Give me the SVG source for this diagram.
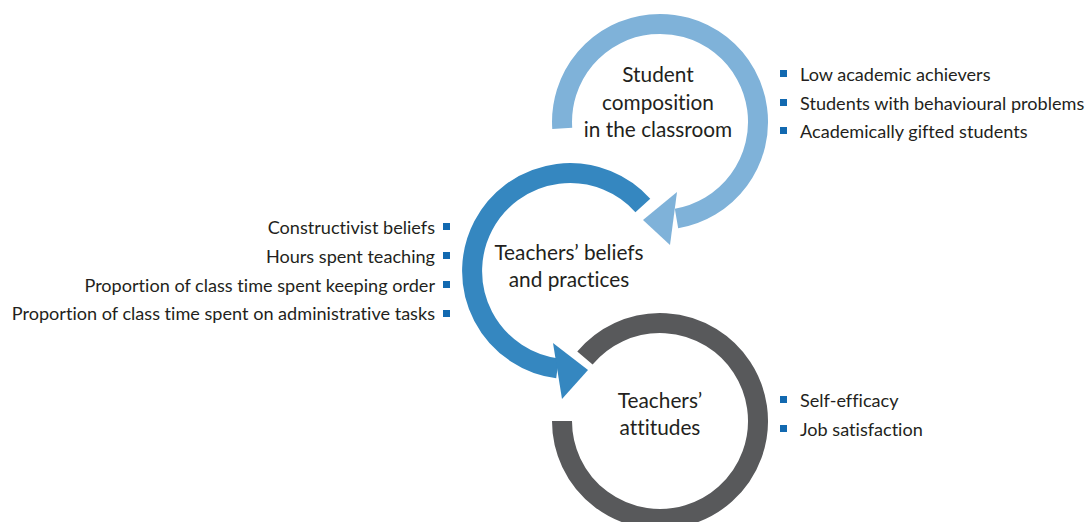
<svg xmlns="http://www.w3.org/2000/svg" width="1090" height="522" viewBox="0 0 1090 522">
<style>
text{font-family:Lato,"Open Sans","Liberation Sans",sans-serif;fill:#231f20;font-variant-ligatures:none;font-feature-settings:"liga" 0,"clig" 0}
.c{font-size:20.8px;text-anchor:middle}
.s{font-size:18.1px}
.r{text-anchor:end}
.b{fill:#1269b0}
.ring{fill:none;stroke-width:20;stroke-linecap:butt}
</style>
<rect width="1090" height="522" fill="#ffffff"/>
<g id="connectors">
<path class="ring" stroke="#7fb2d9" d="M562.24 128.34 A98 98 0 1 1 676.5 218.5"/>
<polygon fill="#7fb2d9" points="677,192 643,220 670,245"/>
<path class="ring" stroke="#3587c0" d="M642.83 205.43 A98 98 0 1 0 557.5 368.3"/>
<polygon fill="#3587c0" points="553,343 588,370 562,399"/>
</g>
<g id="node-students">
<text class="c" x="658" y="82">Student</text>
<text class="c" x="658" y="110">composition</text>
<text class="c" x="658" y="137">in the classroom</text>
</g>
<g id="node-beliefs">
<text class="c" x="569" y="260">Teachers’ beliefs</text>
<text class="c" x="569" y="287">and practices</text>
</g>
<g id="node-attitudes">
<path class="ring" stroke="#58595b" d="M584.93 358.01 A98 98 0 1 1 562 421"/>
<text class="c" x="660" y="408">Teachers’</text>
<text class="c" x="660" y="435">attitudes</text>
</g>
<g id="list-students">
<rect class="b" x="780" y="70" width="7" height="7"/>
<rect class="b" x="780" y="99" width="7" height="7"/>
<rect class="b" x="780" y="127" width="7" height="7"/>
<text class="s" x="800" y="81">Low academic achievers</text>
<text class="s" x="800" y="110">Students with behavioural problems</text>
<text class="s" x="800" y="138">Academically gifted students</text>
</g>
<g id="list-beliefs">
<rect class="b" x="443" y="223" width="7" height="7"/>
<rect class="b" x="443" y="252" width="7" height="7"/>
<rect class="b" x="443" y="281" width="7" height="7"/>
<rect class="b" x="443" y="310" width="7" height="7"/>
<text class="s r" x="435" y="234">Constructivist beliefs</text>
<text class="s r" x="435" y="263">Hours spent teaching</text>
<text class="s r" x="435" y="292">Proportion of class time spent keeping order</text>
<text class="s r" x="435" y="320">Proportion of class time spent on administrative tasks</text>
</g>
<g id="list-attitudes">
<rect class="b" x="780" y="396" width="7" height="7"/>
<rect class="b" x="780" y="425" width="7" height="7"/>
<text class="s" x="800" y="407">Self-efficacy</text>
<text class="s" x="800" y="436">Job satisfaction</text>
</g>
</svg>
